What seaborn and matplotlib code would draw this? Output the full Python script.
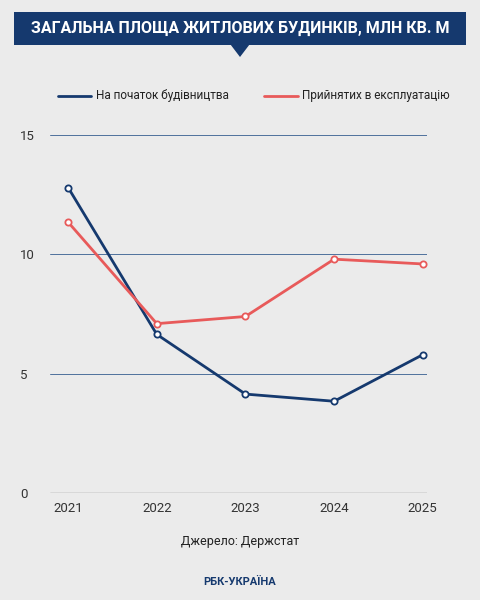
import matplotlib
matplotlib.use("Agg")
import matplotlib.pyplot as plt
import seaborn as sns
import pandas as pd
from matplotlib.patches import Rectangle, Polygon

years = [2021, 2022, 2023, 2024, 2025]
started = [12.8, 6.65, 4.15, 3.85, 5.8]
accepted = [11.35, 7.1, 7.4, 9.8, 9.6]
series_names = ["На початок будівництва", "Прийнятих в експлуатацію"]
colors = ["#15396e", "#e85a5a"]

sns.set_theme(style="white")
plt.rcParams['font.family'] = ['Roboto', 'DejaVu Sans']

df = pd.DataFrame({"year": years * 2,
                   "value": started + accepted,
                   "series": [series_names[0]] * 5 + [series_names[1]] * 5})

fig = plt.figure(figsize=(4.8, 6.0), dpi=100)
fig.patch.set_facecolor("#ebebeb")
ax = fig.add_axes([0.105, 0.178, 0.785, 0.597])
ax.set_facecolor("#ebebeb")
sns.lineplot(data=df, x="year", y="value", hue="series", palette=colors, ax=ax,
             linewidth=2, marker="o", markersize=4.5, markerfacecolor="white",
             markeredgewidth=1.3, legend=False)
for i, c in enumerate(colors):
    ax.lines[i].set_markeredgecolor(c)
ax.set_ylim(0, 15)
ax.set_xlim(2020.8, 2025.05)
ax.set_yticks([0, 5, 10, 15])
ax.set_xticks(years)
for y in [5, 10, 15]:
    ax.axhline(y, color="#4f719c", lw=0.7, zorder=0)
ax.axhline(0, color="#555555", lw=0.9, zorder=0)
for s in ax.spines.values():
    s.set_visible(False)
ax.set_xlabel(""); ax.set_ylabel("")
ax.tick_params(axis="both", labelsize=9.5, colors="#333333", length=0, pad=6)
for lbl in ax.get_yticklabels():
    lbl.set_horizontalalignment("left")
ax.tick_params(axis="y", pad=22)

# title banner
fig.patches.append(Rectangle((0.03, 0.925), 0.94, 0.055, transform=fig.transFigure,
                             facecolor="#15396e", edgecolor="none"))
fig.patches.append(Polygon([(0.48, 0.926), (0.52, 0.926), (0.5, 0.905)], closed=True,
                           transform=fig.transFigure, facecolor="#15396e", edgecolor="none"))
fig.text(0.5, 0.952, "ЗАГАЛЬНА ПЛОЩА ЖИТЛОВИХ БУДИНКІВ, МЛН КВ. М", ha="center",
         va="center", color="white", fontsize=11.5, fontweight="bold")

# legend
ly = 0.84
fig.add_artist(plt.Line2D([0.12, 0.19], [ly, ly], color=colors[0], lw=2, transform=fig.transFigure))
fig.text(0.2, ly, series_names[0], va="center", fontsize=8.5, color="#222222")
fig.add_artist(plt.Line2D([0.55, 0.62], [ly, ly], color=colors[1], lw=2, transform=fig.transFigure))
fig.text(0.63, ly, series_names[1], va="center", fontsize=8.5, color="#222222")

fig.text(0.5, 0.098, "Джерело: Держстат", ha="center", va="center", fontsize=9, color="#222222")
fig.text(0.5, 0.03, "РБК-УКРАЇНА", ha="center", va="center", fontsize=8, color="#15396e", fontweight="bold")

fig.savefig("out.png", dpi=100, facecolor=fig.get_facecolor())
